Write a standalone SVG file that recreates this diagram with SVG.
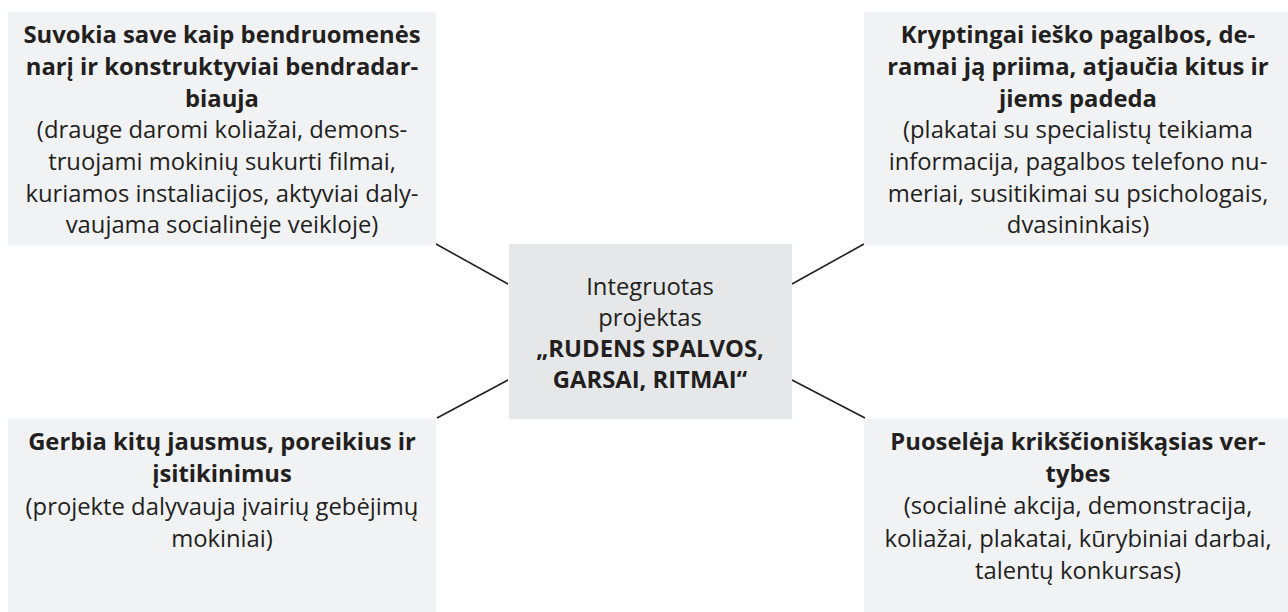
<svg xmlns="http://www.w3.org/2000/svg" width="1288" height="612" viewBox="0 0 1288 612">
<style>
.box{fill:#f1f2f4}
.center{fill:#e6e7e8}
text{font-family:"Open Sans","Noto Sans",sans-serif;font-size:23.8px;fill:#231f20;text-anchor:middle}
.b{font-weight:bold}
.conn line{stroke:#231f20;stroke-width:1.6}
</style>
<rect width="1288" height="612" fill="#ffffff"/>
<g id="connectors" class="conn">
<line x1="436" y1="244" x2="508" y2="284"/>
<line x1="792" y1="284" x2="864" y2="244"/>
<line x1="508" y1="380" x2="437" y2="418"/>
<line x1="792" y1="380" x2="865" y2="418"/>
</g>
<g id="center-node">
<rect class="center" x="509" y="244" width="283" height="175"/>
<text x="650" y="295">Integruotas</text>
<text x="650" y="326">projektas</text>
<text class="b" x="650" y="357">„RUDENS SPALVOS,</text>
<text class="b" x="650" y="388">GARSAI, RITMAI“</text>
</g>
<g id="node-top-left">
<rect class="box" x="8" y="12" width="428" height="233"/>
<text class="b" x="222" y="43">Suvokia save kaip bendruomenės</text>
<text class="b" x="222" y="75">narį ir konstruktyviai bendradar-</text>
<text class="b" x="222" y="106.5">biauja</text>
<text x="222" y="138">(drauge daromi koliažai, demons-</text>
<text x="222" y="170">truojami mokinių sukurti filmai,</text>
<text x="222" y="201.5">kuriamos instaliacijos, aktyviai daly-</text>
<text x="222" y="233">vaujama socialinėje veikloje)</text>
</g>
<g id="node-top-right">
<rect class="box" x="864" y="12" width="424" height="233"/>
<text class="b" x="1078" y="43">Kryptingai ieško pagalbos, de-</text>
<text class="b" x="1078" y="75">ramai ją priima, atjaučia kitus ir</text>
<text class="b" x="1078" y="106.5">jiems padeda</text>
<text x="1078" y="138">(plakatai su specialistų teikiama</text>
<text x="1078" y="170">informacija, pagalbos telefono nu-</text>
<text x="1078" y="201.5">meriai, susitikimai su psichologais,</text>
<text x="1078" y="233">dvasininkais)</text>
</g>
<g id="node-bottom-left">
<rect class="box" x="8" y="419" width="428" height="193"/>
<text class="b" x="222" y="450">Gerbia kitų jausmus, poreikius ir</text>
<text class="b" x="222" y="482">įsitikinimus</text>
<text x="222" y="515">(projekte dalyvauja įvairių gebėjimų</text>
<text x="222" y="547">mokiniai)</text>
</g>
<g id="node-bottom-right">
<rect class="box" x="864" y="419" width="424" height="193"/>
<text class="b" x="1078" y="450">Puoselėja krikščioniškąsias ver-</text>
<text class="b" x="1078" y="482">tybes</text>
<text x="1078" y="514">(socialinė akcija, demonstracija,</text>
<text x="1078" y="547">koliažai, plakatai, kūrybiniai darbai,</text>
<text x="1078" y="579">talentų konkursas)</text>
</g>
</svg>
